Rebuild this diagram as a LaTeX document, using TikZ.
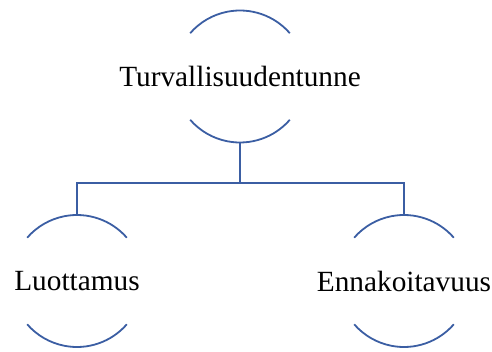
\documentclass[tikz,border=0pt]{standalone}
\usepackage{fontspec}
\setmainfont{Liberation Serif}
\definecolor{arcblue}{RGB}{59,94,163}
\begin{document}
\begin{tikzpicture}[x=1pt,y=1pt,
  ring/.style={draw=arcblue,line width=1.8pt},
  link/.style={draw=arcblue,line width=1.8pt},
  lbl/.style={font=\fontsize{29.3}{32}\selectfont,inner sep=0pt}]
\useasboundingbox (0,0) rectangle (492,351);
\coordinate (tc) at (240,274.5);
\coordinate (lc) at (77,70);
\coordinate (rc) at (404,70);
\coordinate (bus) at (0,168);
\node[lbl] (t) at (tc) {Turvallisuudentunne};
\node[lbl] (l) at (lc) {Luottamus};
\node[lbl] (r) at (rc) {Ennakoitavuus};
\foreach \c in {tc,lc,rc}{
  \draw[ring] ([shift={(41:66)}]\c) arc[start angle=41,end angle=139,radius=66];
  \draw[ring] ([shift={(-41:66)}]\c) arc[start angle=-41,end angle=-139,radius=66];
}
\coordinate (tb) at ([yshift=-66]tc);
\coordinate (lt) at ([yshift=66]lc);
\coordinate (rt) at ([yshift=66]rc);
\draw[link] (tb) -- (tb |- bus);
\draw[link] (lt) -- (lt |- bus) -- (rt |- bus) -- (rt);
\end{tikzpicture}
\end{document}
